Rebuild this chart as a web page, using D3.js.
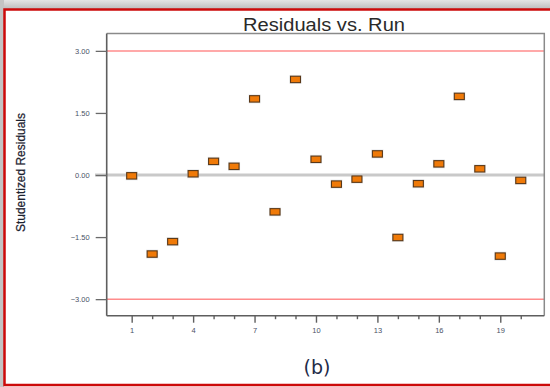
<!DOCTYPE html>
<html>
<head>
<meta charset="utf-8">
<script src="https://cdn.jsdelivr.net/npm/d3@7/dist/d3.min.js"></script>
<style>
  html, body { margin: 0; padding: 0; background: #fff; }
  svg { display: block; }
</style>
</head>
<body>
<script>
// Run order and studentized residual for each run
const runs = [1, 2, 3, 4, 5, 6, 7, 8, 9, 10, 11, 12, 13, 14, 15, 16, 17, 18, 19, 20];
const residuals = [-0.02, -1.91, -1.61, 0.03, 0.33, 0.21, 1.84, -0.89, 2.31, 0.38,
                   -0.22, -0.10, 0.51, -1.51, -0.21, 0.27, 1.90, 0.15, -1.96, -0.13];
const yTicks = [-3, -1.5, 0, 1.5, 3];
const xLabelTicks = [1, 4, 7, 10, 13, 16, 19];
const limits = [-3, 3];

const W = 550, H = 387;
const svg = d3.select("body").append("svg").attr("width", W).attr("height", H);

// window chrome: grey strip at top/left, red frame
const defs = svg.append("defs");
const grad = defs.append("linearGradient").attr("id", "topGrad")
  .attr("x1", 0).attr("y1", 0).attr("x2", 0).attr("y2", 1);
grad.append("stop").attr("offset", "0%").attr("stop-color", "#e4e4e4");
grad.append("stop").attr("offset", "100%").attr("stop-color", "#bdbdbd");
svg.append("rect").attr("x", 0).attr("y", 0).attr("width", W).attr("height", 9).attr("fill", "url(#topGrad)");
svg.append("rect").attr("x", 0).attr("y", 0).attr("width", 4).attr("height", H).attr("fill", "#c4c4c4");
svg.append("rect").attr("x", 4.5).attr("y", 9.5).attr("width", W + 10).attr("height", 375.5)
  .attr("fill", "#fff").attr("stroke", "#cc0a0a").attr("stroke-width", 2.5);

const pLeft = 106.7, pRight = 544.3, pTop = 33.5, pBottom = 315.7;
const x = d3.scaleLinear().domain([-0.22, 21.15]).range([pLeft, pRight]);
const y = d3.scaleLinear().domain([-3.40, 3.42]).range([pBottom, pTop]);

// title
svg.append("text")
  .attr("x", 324).attr("y", 31)
  .attr("text-anchor", "middle")
  .attr("font-family", "Liberation Sans, Arial, sans-serif")
  .attr("font-size", 17.5)
  .attr("fill", "#2a2a2a")
  .attr("textLength", 162).attr("lengthAdjust", "spacingAndGlyphs")
  .text("Residuals vs. Run");

// y axis title
svg.append("text")
  .attr("transform", "translate(25,172.5) rotate(-90)")
  .attr("text-anchor", "middle")
  .attr("font-family", "Liberation Sans Narrow, Liberation Sans, Arial, sans-serif")
  .attr("font-size", 12)
  .attr("fill", "#1c2230")
  .attr("stroke", "#1c2230").attr("stroke-width", 0.25)
  .attr("textLength", 119).attr("lengthAdjust", "spacingAndGlyphs")
  .text("Studentized Residuals");

// zero reference line and +/-3 limit lines
svg.append("line")
  .attr("x1", 95).attr("x2", pRight).attr("y1", y(0)).attr("y2", y(0))
  .attr("stroke", "#c9c9c9").attr("stroke-width", 3);
svg.selectAll("line.limit").data(limits).enter().append("line")
  .attr("class", "limit")
  .attr("x1", pLeft).attr("x2", pRight)
  .attr("y1", d => y(d)).attr("y2", d => y(d))
  .attr("stroke", "#ff8c8c").attr("stroke-width", 1.5);

// frame: top and right lighter
svg.append("path")
  .attr("d", `M${pLeft},${pTop}H${pRight}V${pBottom}`)
  .attr("fill", "none").attr("stroke", "#8a8a8a").attr("stroke-width", 1.5);

// y axis
const yAxis = d3.axisLeft(y).tickValues(yTicks).tickFormat(d3.format(".2f"))
  .tickSize(11).tickPadding(6);
const gy = svg.append("g").attr("transform", `translate(${pLeft},0)`).call(yAxis);
gy.select(".domain").attr("d", `M0,${pTop}V${pBottom}`).attr("stroke", "#5e5e5e").attr("stroke-width", 1.6);
gy.selectAll(".tick line").attr("stroke", "#6a6a6a").attr("stroke-width", 1.3);
gy.selectAll(".tick text")
  .attr("font-family", "Liberation Sans, Arial, sans-serif")
  .attr("font-size", 7.5).attr("fill", "#4a5266");

// x axis
const xAxis = d3.axisBottom(x).tickValues(runs)
  .tickFormat(d => xLabelTicks.includes(d) ? String(d) : "")
  .tickSize(0).tickPadding(12);
const gx = svg.append("g").attr("transform", `translate(0,${pBottom})`).call(xAxis);
gx.select(".domain").attr("d", `M${pLeft},0H${pRight}`).attr("stroke", "#5e5e5e").attr("stroke-width", 1.6);
gx.selectAll(".tick line")
  .attr("y2", d => xLabelTicks.includes(d) ? 7 : 3.5)
  .attr("stroke", "#5e5e5e").attr("stroke-width", 1.4);
gx.selectAll(".tick text")
  .attr("font-family", "Liberation Sans, Arial, sans-serif")
  .attr("font-size", 7.5).attr("fill", "#4a5266");

// residual markers
const pts = svg.append("g");
pts.selectAll("rect.halo").data(runs).enter().append("rect")
  .attr("class", "halo")
  .attr("x", d => x(d) - 6).attr("y", (d, i) => y(residuals[i]) - 4.5)
  .attr("width", 12).attr("height", 9)
  .attr("fill", "#d6dadf").attr("opacity", 0.6);
pts.selectAll("rect.pt").data(runs).enter().append("rect")
  .attr("class", "pt")
  .attr("x", d => x(d) - 5).attr("y", (d, i) => y(residuals[i]) - 3.2)
  .attr("width", 10).attr("height", 6.4)
  .attr("fill", "#f07a08").attr("stroke", "#5a3818").attr("stroke-width", 1.1);

// panel label
svg.append("text")
  .attr("x", 317).attr("y", 374)
  .attr("text-anchor", "middle")
  .attr("font-family", "DejaVu Sans, sans-serif")
  .attr("font-size", 19)
  .attr("fill", "#1e2a48")
  .text("(b)");
</script>
</body>
</html>
